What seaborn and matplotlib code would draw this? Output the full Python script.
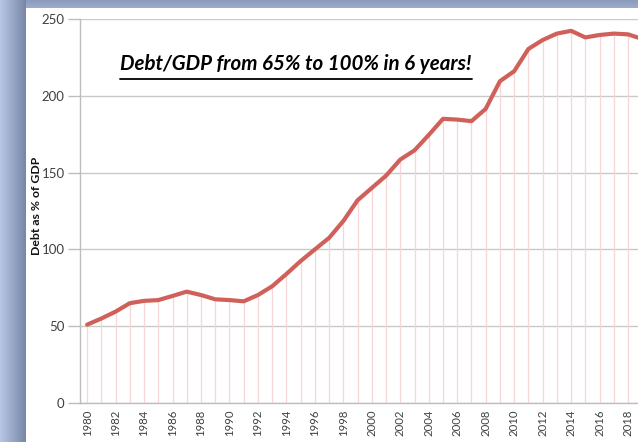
import numpy as np
import pandas as pd
import matplotlib
matplotlib.use("Agg")
import matplotlib.pyplot as plt
from matplotlib.lines import Line2D
import seaborn as sns

# Debt as a share of GDP, by year
years = list(range(1980, 2020))
debt_pct = [51, 55, 59.5, 65, 66.5, 67, 69.7, 72.5, 70.3, 67.5,
            67, 66.2, 70.3, 76, 84, 92.4, 100, 107.5, 118.5, 132,
            140, 148, 158.5, 164.5, 174.5, 185, 184.5, 183.5, 191.5, 209.5,
            216, 230.5, 236.3, 240.5, 242.3, 238, 239.6, 240.5, 240, 237]
tick_years = list(range(1980, 2019, 2))
y_ticks = [0, 50, 100, 150, 200, 250]
title_text = "Debt/GDP from 65% to 100% in 6 years!"
y_label = "Debt as % of GDP"

df = pd.DataFrame({"year": years, "debt": debt_pct})

sns.set_theme(style="white")
plt.rcParams["font.family"] = ["Lato", "DejaVu Sans"]

W, H = 638, 442
fig = plt.figure(figsize=(W / 100, H / 100), dpi=100)

# Slide-style frame: blue gradient strip on the left, band on top
bg = fig.add_axes([0, 0, 1, 1], zorder=-10)
bg.set_axis_off()
img = np.ones((H, W, 3))
left_w, top_h = 26, 8
c0 = np.array([0.72, 0.78, 0.89])
c1 = np.array([0.47, 0.53, 0.66])
for x in range(left_w):
    t = x / (left_w - 1)
    img[:, x, :] = c0 * (1 - t) + c1 * t
top_c = np.array([0.55, 0.61, 0.74])
for yy in range(top_h):
    t = yy / (top_h - 1)
    img[yy, left_w:, :] = top_c * (1 - 0.35 * t) + np.array([0.75, 0.79, 0.87]) * 0.35 * t
bg.imshow(img, extent=[0, 1, 0, 1], aspect="auto")
bg.set_xlim(0, 1)
bg.set_ylim(0, 1)

ax = fig.add_axes([80 / W, 39 / H, 1 - 80 / W, (403 - 19) / H])
ax.set_facecolor("none")

# thin drop lines from each yearly value down to zero
ax.vlines(df["year"], 0, df["debt"], color="#f6d6d6", linewidth=0.9, zorder=1)

sns.lineplot(data=df, x="year", y="debt", ax=ax, color="#d0605a",
             linewidth=3.0, zorder=3, solid_capstyle="round")

ax.set_xlim(1979.5, 2018.7)
ax.set_ylim(0, 250)
ax.set_yticks(y_ticks)
ax.set_xticks(tick_years)
ax.set_xticklabels([str(y) for y in tick_years], rotation=90)
ax.yaxis.grid(True, color="#c9c9c9", linewidth=1.0)
ax.xaxis.grid(False)
for s in ["top", "right"]:
    ax.spines[s].set_visible(False)
for s in ["left", "bottom"]:
    ax.spines[s].set_color("#bdbdbd")
    ax.spines[s].set_linewidth(1.0)
ax.tick_params(axis="y", left=True, length=9, width=1, color="#bdbdbd",
               labelsize=9.5, labelcolor="#404040", pad=2)
ax.tick_params(axis="x", bottom=False, length=0, labelsize=8.2,
               labelcolor="#404040", pad=4.5)
ax.set_xlabel("")
ax.set_ylabel(y_label, fontsize=8.8, fontweight="bold", color="#111111")
ax.yaxis.set_label_coords(-0.068, 0.513)

# underlined headline
title = fig.text(296 / W, 1 - 64 / H, title_text, ha="center", va="center",
                 fontsize=14.8, fontweight="bold", fontstyle="italic", color="black")
fig.canvas.draw()
bb = title.get_window_extent()
uy = 1 - 79 / H
fig.add_artist(Line2D([bb.x0 / W, bb.x1 / W], [uy, uy], color="black",
                      linewidth=1.3, transform=fig.transFigure))

fig.savefig("out.png", dpi=100)
